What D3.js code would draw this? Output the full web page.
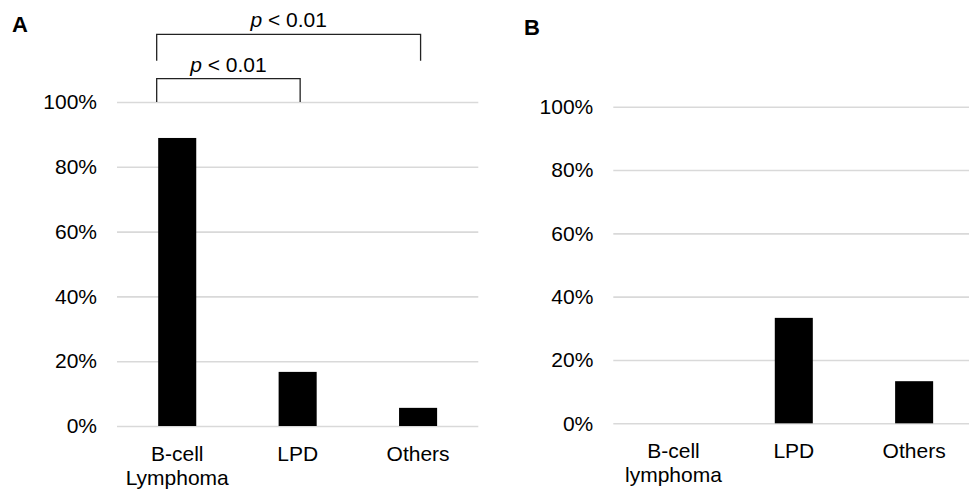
<!DOCTYPE html>
<html>
<head>
<meta charset="utf-8">
<script src="https://cdn.jsdelivr.net/npm/d3@7"></script>
<style>
    body { margin: 0; background: #fff; }
    svg text { font-family: "Liberation Sans", Arial, sans-serif; }
    .grid line { stroke: #d9d9d9; stroke-width: 1.6; }
    .grid text, .xaxis text { font-size: 21px; fill: #000; }
    .panel-label { font-size: 22px; font-weight: bold; }
    .bracket { fill: none; stroke: #222; stroke-width: 1.3; }
    .ptext { font-size: 21px; }
</style>
</head>
<body>
<svg id="chart" width="969" height="489"></svg>
<script>
// data
var categoriesA = ["B-cell\nLymphoma", "LPD", "Others"],
    valuesA = [0.889, 0.167, 0.056];

var categoriesB = ["B-cell\nlymphoma", "LPD", "Others"],
    valuesB = [0, 0.333, 0.133];

var yTicks = [0, 0.2, 0.4, 0.6, 0.8, 1.0];

// significance brackets for panel A (from, to, top, bottom in y units)
var brackets = [
    {from: 0, to: 1, top: 1.072, bottom: 1.0, label: "0.01"},
    {from: 0, to: 2, top: 1.209, bottom: 1.127, label: "0.01"}
];

var svg = d3.select("#chart");

// draws one panel and returns its scales
function drawPanel(cfg)
{
    var x = d3.scaleBand()
              .domain(cfg.categories)
              .range(cfg.xRange)
              .paddingInner(0.684)
              .paddingOuter(0.342);

    var y = d3.scaleLinear().domain([0, 1]).range(cfg.yRange);

    var g = svg.append("g");

    // gridlines + tick labels
    var grid = g.append("g")
        .attr("class", "grid")
        .attr("transform", "translate(" + cfg.xRange[0] + ",0)")
        .call(d3.axisLeft(y)
                .tickValues(yTicks)
                .tickFormat(d3.format(".0%"))
                .tickSize(-(cfg.xRange[1] - cfg.xRange[0]))
                .tickPadding(20));
    grid.select(".domain").remove();

    // bars
    g.selectAll("rect.bar")
        .data(cfg.values)
        .enter()
        .append("rect")
        .attr("class", "bar")
        .attr("x", (d, i) => x(cfg.categories[i]))
        .attr("y", d => y(d))
        .attr("width", x.bandwidth())
        .attr("height", d => y(0) - y(d))
        .attr("fill", "#000");

    // category labels (two lines where needed)
    var xa = g.append("g")
        .attr("class", "xaxis")
        .attr("transform", "translate(0," + cfg.yRange[0] + ")")
        .call(d3.axisBottom(x).tickSize(0).tickFormat(""));
    xa.select(".domain").remove();

    xa.selectAll(".tick").append("text")
        .attr("y", 35)
        .attr("text-anchor", "middle")
        .each(function(d) {
            var lines = d.split("\n");
            var t = d3.select(this);
            lines.forEach((l, k) => {
                t.append("tspan")
                 .attr("x", 0)
                 .attr("dy", k == 0 ? 0 : 23.5)
                 .text(l);
            });
        });

    // panel letter
    svg.append("text")
        .attr("class", "panel-label")
        .attr("x", cfg.labelPos[0])
        .attr("y", cfg.labelPos[1])
        .text(cfg.letter);

    return {x: x, y: y};
}

var A = drawPanel({
    categories: categoriesA, values: valuesA,
    xRange: [117, 478.3], yRange: [426, 102],
    letter: "A", labelPos: [12, 32]
});

drawPanel({
    categories: categoriesB, values: valuesB,
    xRange: [613.3, 974.3], yRange: [423.3, 106.7],
    letter: "B", labelPos: [524, 35]
});

// brackets with p-values
brackets.forEach(b => {
    var x0 = A.x(categoriesA[b.from]) - 1.5,
        x1 = A.x(categoriesA[b.to]) + A.x.bandwidth() / 2 + 2.5,
        yt = A.y(b.top),
        yb = A.y(b.bottom);

    svg.append("path")
        .attr("class", "bracket")
        .attr("d", "M" + x0 + "," + yb + "V" + yt + "H" + x1 + "V" + yb);

    var t = svg.append("text")
        .attr("class", "ptext")
        .attr("x", (x0 + x1) / 2)
        .attr("y", yt - 7)
        .attr("text-anchor", "middle");
    t.append("tspan").attr("font-style", "italic").text("p");
    t.append("tspan").text(" < " + b.label);
});
</script>
</body>
</html>
